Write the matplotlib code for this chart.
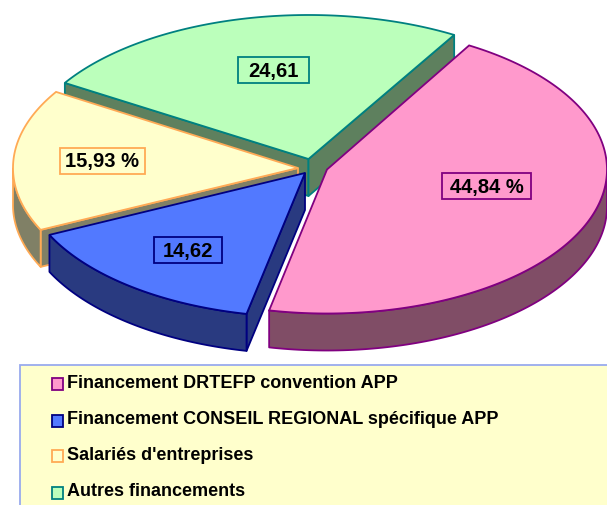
import numpy as np
import matplotlib.pyplot as plt
from matplotlib.patches import Polygon, Rectangle

plt.rcParams['font.family'] = ['Liberation Sans', 'DejaVu Sans']

# data
names = ['Financement DRTEFP convention APP',
         'Financement CONSEIL REGIONAL spécifique APP',
         "Salariés d'entreprises",
         'Autres financements']
values = [44.84, 14.62, 15.93, 24.61]
labels = ['44,84 %', '14,62', '15,93 %', '24,61']

# styles
tops = ['#FF99CC', '#5279FF', '#FFFFCC', '#BBFFBB']
sides = ['#804D66', '#293A80', '#808066', '#5E805E']
edges = ['#800080', '#000080', '#FFAA55', '#008080']
centers = [(327, 169.5), (305, 173), (298, 168), (308.5, 159)]
radii_x = [280, 283, 285, 287]
label_pos = [(486.5, 186), (188, 250), (102, 161), (273.5, 70)]
box_w = [89, 68, 85, 71]
legend_y = [384, 421, 456, 493]
B, DEPTH, BOX_H = 144, 37, 26
START = 59.5

fig = plt.figure(figsize=(6.07, 5.05), dpi=100)
ax = fig.add_axes([0, 0, 1, 1])
ax.set_xlim(0, 607)
ax.set_ylim(505, 0)
ax.axis('off')


def draw_slice(i, a0, a1):
    c = centers[i]
    t = np.radians(np.linspace(a0, a1, 160))
    arc = np.column_stack([c[0] + radii_x[i] * np.cos(t), c[1] - B * np.sin(t)])
    kw = dict(fc=sides[i], ec=edges[i], lw=1.3, joinstyle='round')
    # cut faces, only those turned towards the viewer
    if np.cos(t[0]) < 0:
        p = arc[0]
        ax.add_patch(Polygon([c, p, p + [0, DEPTH], (c[0], c[1] + DEPTH)], **kw))
    if np.cos(t[-1]) > 0:
        p = arc[-1]
        ax.add_patch(Polygon([c, p, p + [0, DEPTH], (c[0], c[1] + DEPTH)], **kw))
    # outer wall, front half of the ellipse only
    front = arc[np.sin(t) <= 0]
    if len(front):
        ax.add_patch(Polygon(np.vstack([front, front[::-1] + [0, DEPTH]]), **kw))
    ax.add_patch(Polygon(np.vstack([[c], arc]), fc=tops[i], ec=edges[i], lw=1.3))


# angles run clockwise from START, values are percentages
ends = START - np.cumsum(values) * 3.6
begins = np.r_[START, ends[:-1]]
for i in [3, 2, 1, 0]:
    draw_slice(i, begins[i], ends[i])

for i, txt in enumerate(labels):
    x, y = label_pos[i]
    ax.add_patch(Rectangle((x - box_w[i] / 2, y - BOX_H / 2), box_w[i], BOX_H,
                           fc=tops[i], ec=edges[i], lw=1.3))
    ax.text(x, y - 1, txt, ha='center', va='center_baseline',
            fontsize=14.5, fontweight='bold', color='black')

# legend panel runs off the figure on the right and bottom
ax.add_patch(Rectangle((20, 365), 620, 170, fc='#FFFFCC', ec='#99AAEE', lw=1.3))
for i, name in enumerate(names):
    ax.add_patch(Rectangle((51.5, legend_y[i] - 6), 11.5, 12, fc=tops[i], ec=edges[i], lw=1.3))
    ax.text(67, legend_y[i] - 1, name, ha='left', va='center',
            fontsize=12.95, fontweight='bold', color='black')

fig.savefig('out.png', dpi=100)
